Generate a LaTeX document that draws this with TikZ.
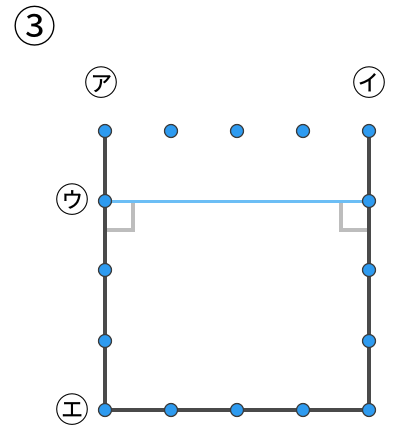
\documentclass[tikz,border=0pt]{standalone}
\usepackage{fontspec}
\newfontfamily\jpfont{Noto Sans CJK JP}
\usetikzlibrary{positioning}
\definecolor{dotblue}{HTML}{2E9BF0}
\definecolor{edgegray}{HTML}{4A4A4A}
\definecolor{linkblue}{HTML}{6CBEF5}
\definecolor{markgray}{HTML}{BDBDBD}
\tikzset{%
	dot/.style      = {circle, draw = edgegray!80!black, fill = dotblue, line width = 1.2pt,
		inner sep = 0pt, minimum size = 13pt},
	side/.style     = {draw = edgegray, line width = 3.2pt},
	link/.style     = {draw = linkblue, line width = 3pt},
	rmark/.style    = {draw = markgray, line width = 3.2pt},
	tag/.style      = {font = \jpfont\fontsize{34}{34}\selectfont, inner sep = 0pt},
	title/.style    = {font = \jpfont\fontsize{43}{43}\selectfont, inner sep = 0pt}
}

\begin{document}
\begin{tikzpicture}[x=1pt, y=-1pt]
                \useasboundingbox (0,0) rectangle (395,428);
                \node[title] (num) at (35,26) {③} ;
                
                % grid of points
                \foreach \c/\x in {1/105,2/171,3/237,4/303,5/369}
                    \foreach \r/\y in {1/131,2/201,3/270,4/341,5/410}
                        \coordinate (p\c\r) at (\x,\y);
                
                % right angle marks
                \draw[rmark] (133,201) -- (133,230) -- (105,230);
                \draw[rmark] (341,201) -- (341,230) -- (369,230);
                
                \draw[side] (p11) -- (p15) -- (p55) -- (p51);
                \draw[link] (p12) -- (p52);
                
                \foreach \c in {1,...,5} {
                    \node[dot] at (p\c1) {};
                    \node[dot] at (p\c5) {};
                }
                \foreach \r in {2,3,4} {
                    \node[dot] at (p1\r) {};
                    \node[dot] at (p5\r) {};
                }
                
                \node[tag] (a) at (101,83)  {㋐} ;
                \node[tag] (i) at (369,83)  {㋑} ;
                \node[tag] (u) at (72,200)  {㋒} ;
                \node[tag] (e) at (72,410)  {㋓} ;
            \end{tikzpicture}
\end{document}
